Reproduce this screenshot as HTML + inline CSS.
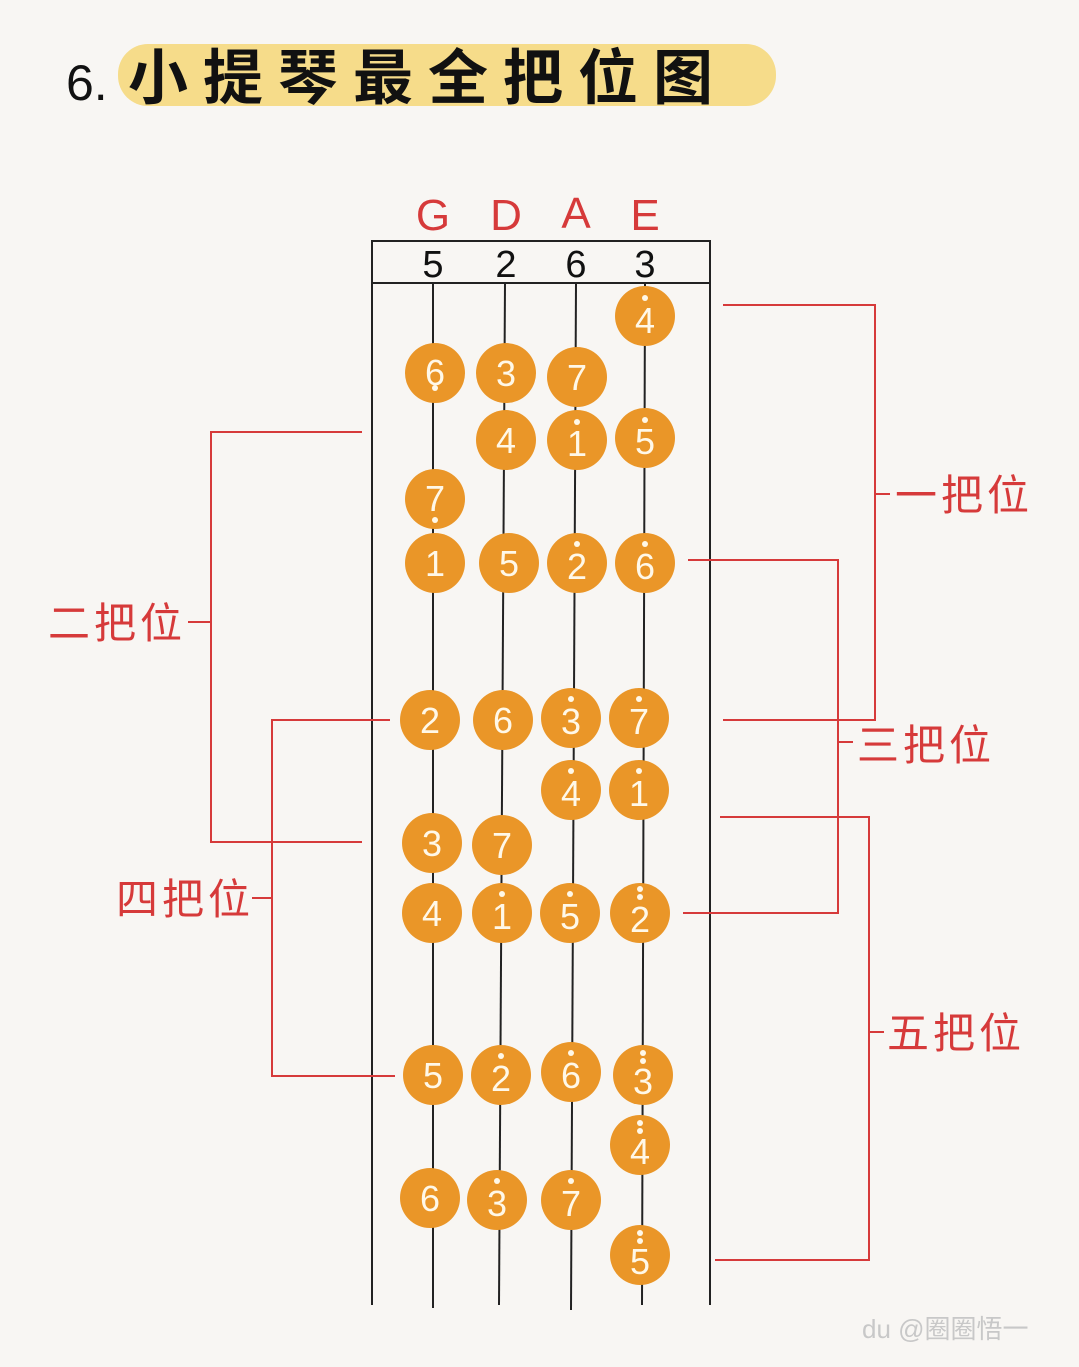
<!DOCTYPE html>
<html><head><meta charset="utf-8"><style>
html,body{margin:0;padding:0;background:#f8f6f3;}
svg{display:block}
</style></head><body>
<svg width="1079" height="1367" viewBox="0 0 1079 1367" xmlns="http://www.w3.org/2000/svg">
<rect width="1079" height="1367" fill="#f8f6f3"/>
<rect x="118" y="44" width="658" height="62" rx="30" fill="#f6dc8a"/>
<text x="66" y="100" font-family="Liberation Sans, sans-serif" font-size="50" fill="#111">6.</text>
<text x="128" y="99" font-family="Liberation Sans, 'Noto Sans CJK SC', sans-serif" font-size="60" font-weight="bold" letter-spacing="15" fill="#111">小提琴最全把位图</text>

<g font-family="Liberation Sans, sans-serif" font-size="44" fill="#d63a3a" text-anchor="middle">
<text x="433" y="230">G</text><text x="506" y="230">D</text><text x="576" y="228">A</text><text x="645" y="230">E</text>
</g>
<g stroke="#222" stroke-width="2" fill="none">
<polyline points="372,1305 372,241 710,241 710,1305"/>
<line x1="372" y1="283" x2="710" y2="283"/>
<line x1="433" y1="283" x2="433" y2="1308"/>
<line x1="505" y1="283" x2="499" y2="1305"/>
<line x1="576" y1="283" x2="571" y2="1310"/>
<line x1="645" y1="283" x2="642" y2="1305"/>
</g>
<g font-family="Liberation Sans, sans-serif" font-size="38" fill="#111" text-anchor="middle">
<text x="433" y="277">5</text><text x="506" y="277">2</text><text x="576" y="277">6</text><text x="645" y="277">3</text>
</g>

<g stroke="#d63a3a" stroke-width="2" fill="none">
<polyline points="723,305 875,305 875,720 723,720"/><line x1="875" y1="494" x2="890" y2="494"/>
<polyline points="688,560 838,560 838,913 683,913"/><line x1="838" y1="742" x2="853" y2="742"/>
<polyline points="720,817 869,817 869,1260 715,1260"/><line x1="869" y1="1032" x2="884" y2="1032"/>
<polyline points="362,432 211,432 211,842 362,842"/><line x1="188" y1="622" x2="211" y2="622"/>
<polyline points="390,720 272,720 272,1076 395,1076"/><line x1="252" y1="898" x2="272" y2="898"/>
</g>
<g font-family="Liberation Sans, 'Noto Sans CJK SC', sans-serif" font-size="42" fill="#d63a3a" letter-spacing="4">
<text x="895" y="510">一把位</text>
<text x="857" y="760">三把位</text>
<text x="887" y="1048">五把位</text>
<text x="48" y="638">二把位</text>
<text x="116" y="914">四把位</text>
</g>

<g id="notes" font-family="Liberation Sans, sans-serif" font-size="36" fill="#fff8e8" text-anchor="middle">
<g fill="#ea9628">
<circle cx="645" cy="316" r="30"/>
<circle cx="435" cy="373" r="30"/><circle cx="506" cy="373" r="30"/><circle cx="577" cy="377" r="30"/>
<circle cx="506" cy="440" r="30"/><circle cx="577" cy="440" r="30"/><circle cx="645" cy="438" r="30"/>
<circle cx="435" cy="499" r="30"/>
<circle cx="435" cy="563" r="30"/><circle cx="509" cy="563" r="30"/><circle cx="577" cy="563" r="30"/><circle cx="645" cy="563" r="30"/>
<circle cx="430" cy="720" r="30"/><circle cx="503" cy="720" r="30"/><circle cx="571" cy="718" r="30"/><circle cx="639" cy="718" r="30"/>
<circle cx="571" cy="790" r="30"/><circle cx="639" cy="790" r="30"/>
<circle cx="432" cy="843" r="30"/><circle cx="502" cy="845" r="30"/>
<circle cx="432" cy="913" r="30"/><circle cx="502" cy="913" r="30"/><circle cx="570" cy="913" r="30"/><circle cx="640" cy="913" r="30"/>
<circle cx="433" cy="1075" r="30"/><circle cx="501" cy="1075" r="30"/><circle cx="571" cy="1072" r="30"/><circle cx="643" cy="1075" r="30"/>
<circle cx="640" cy="1145" r="30"/>
<circle cx="430" cy="1198" r="30"/><circle cx="497" cy="1200" r="30"/><circle cx="571" cy="1200" r="30"/>
<circle cx="640" cy="1255" r="30"/>
</g>
<text x="645" y="333">4</text>
<text x="435" y="385">6</text><text x="506" y="386">3</text><text x="577" y="390">7</text>
<text x="506" y="453">4</text><text x="577" y="456">1</text><text x="645" y="454">5</text>
<text x="435" y="511">7</text>
<text x="435" y="576">1</text><text x="509" y="576">5</text><text x="577" y="579">2</text><text x="645" y="579">6</text>
<text x="430" y="733">2</text><text x="503" y="733">6</text><text x="571" y="734">3</text><text x="639" y="734">7</text>
<text x="571" y="806">4</text><text x="639" y="806">1</text>
<text x="432" y="856">3</text><text x="502" y="858">7</text>
<text x="432" y="926">4</text><text x="502" y="929">1</text><text x="570" y="929">5</text><text x="640" y="932">2</text>
<text x="433" y="1088">5</text><text x="501" y="1091">2</text><text x="571" y="1088">6</text><text x="643" y="1094">3</text>
<text x="640" y="1164">4</text>
<text x="430" y="1211">6</text><text x="497" y="1216">3</text><text x="571" y="1216">7</text>
<text x="640" y="1274">5</text>
<g fill="#fff8e8">
<circle cx="645" cy="298" r="3"/>
<circle cx="435" cy="388" r="3"/>
<circle cx="577" cy="422" r="3"/><circle cx="645" cy="420" r="3"/>
<circle cx="435" cy="520" r="3"/>
<circle cx="577" cy="544" r="3"/><circle cx="645" cy="544" r="3"/>
<circle cx="571" cy="699" r="3"/><circle cx="639" cy="699" r="3"/>
<circle cx="571" cy="771" r="3"/><circle cx="639" cy="771" r="3"/>
<circle cx="502" cy="894" r="3"/><circle cx="570" cy="894" r="3"/><circle cx="640" cy="889" r="3"/><circle cx="640" cy="897" r="3"/>
<circle cx="501" cy="1056" r="3"/><circle cx="571" cy="1053" r="3"/><circle cx="643" cy="1053" r="3"/><circle cx="643" cy="1061" r="3"/>
<circle cx="640" cy="1123" r="3"/><circle cx="640" cy="1131" r="3"/>
<circle cx="497" cy="1181" r="3"/><circle cx="571" cy="1181" r="3"/>
<circle cx="640" cy="1233" r="3"/><circle cx="640" cy="1241" r="3"/>
</g>
</g>
<text x="862" y="1338" font-family="Liberation Sans, 'Noto Sans CJK SC', sans-serif" font-size="26" fill="#c8c8c8">du @圈圈悟一</text>
</svg>
</body></html>
